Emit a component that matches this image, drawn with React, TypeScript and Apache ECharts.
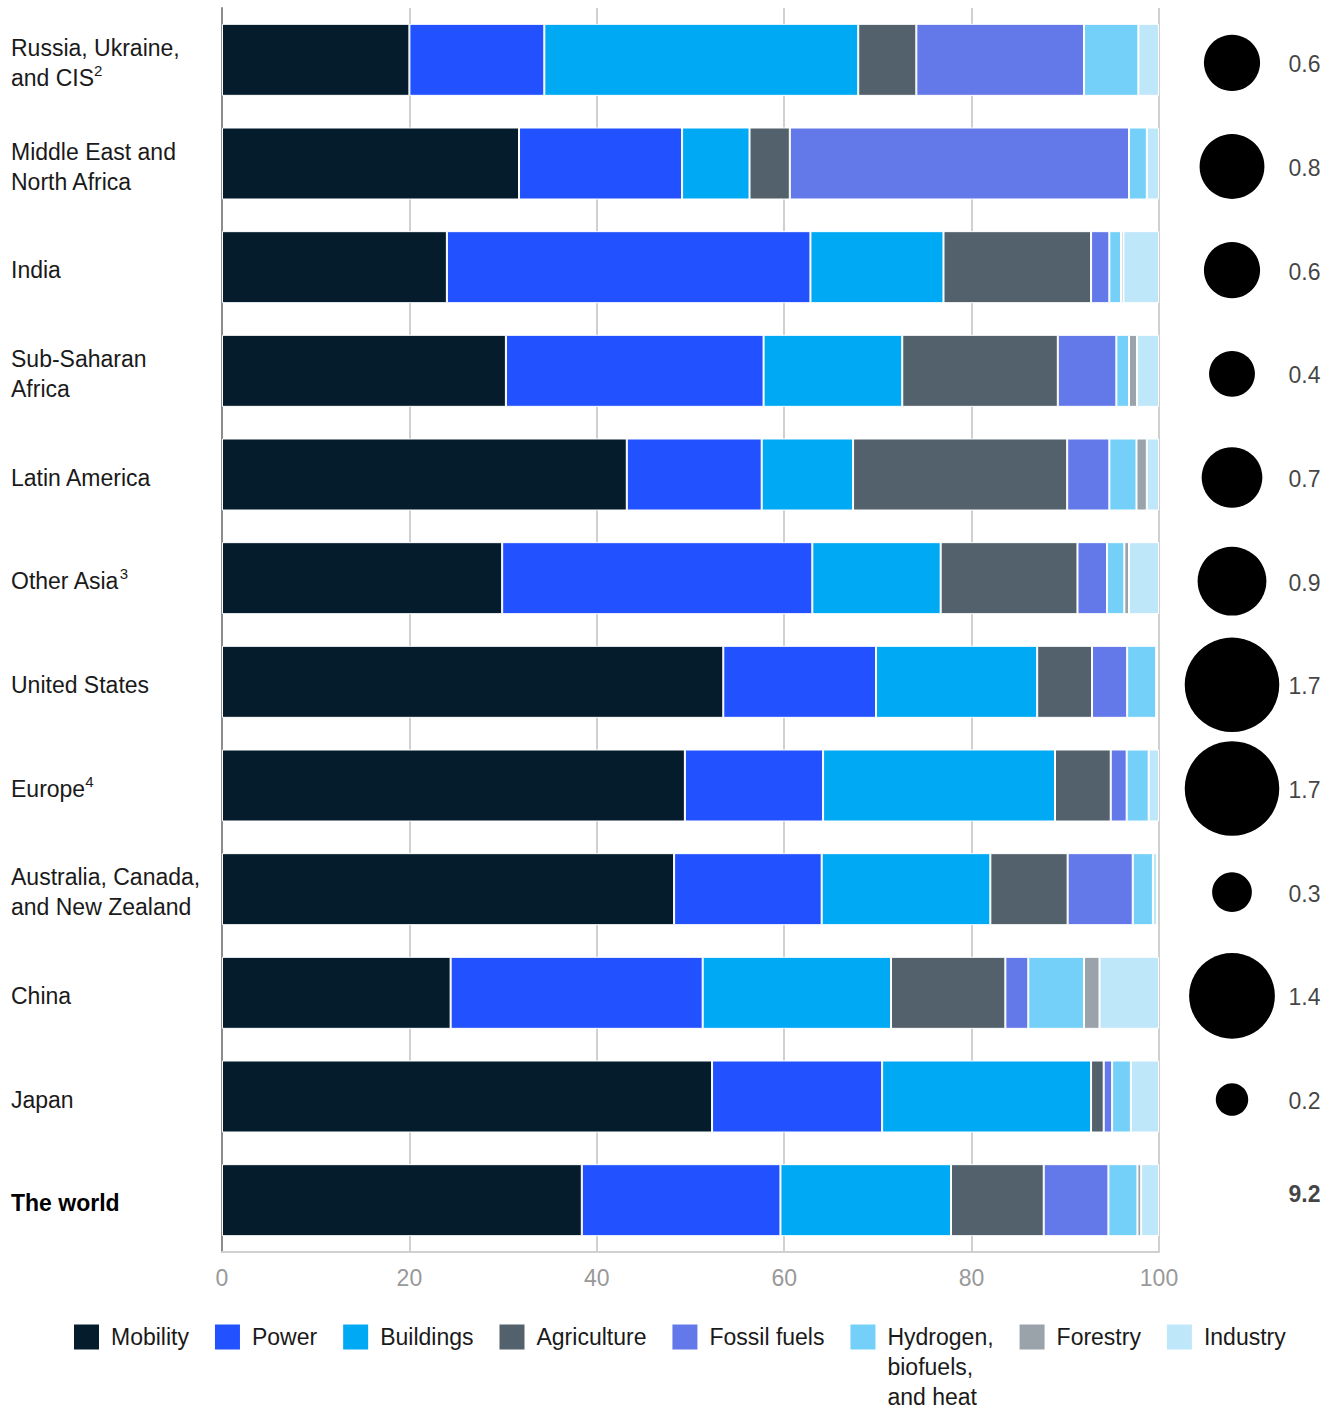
import React, { useEffect, useRef } from "react";
import * as echarts from "echarts";

const categories = [
  "Russia, Ukraine, and CIS",
  "Middle East and North Africa",
  "India",
  "Sub-Saharan Africa",
  "Latin America",
  "Other Asia",
  "United States",
  "Europe",
  "Australia, Canada, and New Zealand",
  "China",
  "Japan",
  "The world",
];

const categoryLabels = [
  "Russia, Ukraine,\nand CIS{sup|2}",
  "Middle East and\nNorth Africa",
  "India",
  "Sub-Saharan\nAfrica",
  "Latin America",
  "Other Asia{sup|3}",
  "United States",
  "Europe{sup|4}",
  "Australia, Canada,\nand New Zealand",
  "China",
  "Japan",
  "{bold|The world}",
];

const mobility = [20.0, 31.7, 24.0, 30.3, 43.2, 29.9, 53.5, 49.4, 48.25, 24.4, 52.3, 38.4];
const power = [14.4, 17.4, 38.8, 27.5, 14.4, 33.1, 16.3, 14.75, 15.75, 26.9, 18.15, 21.2];
const buildings = [33.5, 7.2, 14.2, 14.8, 9.75, 13.7, 17.2, 24.75, 18.0, 20.1, 22.3, 18.2];
const agriculture = [6.2, 4.3, 15.75, 16.6, 22.85, 14.6, 5.85, 5.95, 8.25, 12.2, 1.35, 9.9];
const fossilFuels = [17.9, 36.2, 1.95, 6.25, 4.5, 3.15, 3.75, 1.7, 6.95, 2.45, 0.9, 6.9];
const hydrogen = [5.8, 1.9, 1.25, 1.35, 2.9, 1.85, 3.1, 2.35, 2.15, 5.95, 2.0, 3.1];
const forestry = [0, 0, 0.25, 0.85, 1.1, 0.5, 0, 0, 0, 1.65, 0, 0.4];
const industry = [2.2, 1.3, 3.8, 2.35, 1.3, 3.2, 0, 1.1, 0.45, 6.35, 3.0, 1.9];

const emissions = [0.6, 0.8, 0.6, 0.4, 0.7, 0.9, 1.7, 1.7, 0.3, 1.4, 0.2, 9.2];

const xTicks = [0, 20, 40, 60, 80, 100];

const seriesNames = [
  "Mobility",
  "Power",
  "Buildings",
  "Agriculture",
  "Fossil fuels",
  "Hydrogen, biofuels, and heat",
  "Forestry",
  "Industry",
];
const seriesData = [mobility, power, buildings, agriculture, fossilFuels, hydrogen, forestry, industry];
const seriesColors = ["#051C2C", "#2251FF", "#00A9F4", "#52616B", "#6479E9", "#74D0F8", "#9AA2AA", "#BEE7FA"];

const FONT = "Liberation Sans";
const FS = 23;

export default function App() {
  const ref = useRef<HTMLDivElement>(null);

  useEffect(() => {
    document.body.style.margin = "0";
    if (!ref.current) return;
    const chart = echarts.init(ref.current, undefined, { renderer: "svg" });

    const barSeries = seriesNames.map((name, s) => ({
      name,
      type: "bar",
      stack: "total",
      barWidth: 72,
      xAxisIndex: 0,
      yAxisIndex: 0,
      data: seriesData[s].map((v) => (v === 0 ? null : v)),
      itemStyle: { color: seriesColors[s], borderColor: "#ffffff", borderWidth: 1 },
      emphasis: { disabled: true },
    }));

    const circleSeries = {
      name: "circles",
      type: "scatter",
      xAxisIndex: 1,
      yAxisIndex: 1,
      symbol: "circle",
      symbolOffset: [0, 3],
      data: categories.slice(0, 11).map((c, i) => [52, c, emissions[i]]),
      symbolSize: (val: any) => 72.5 * Math.sqrt(val[2]),
      itemStyle: { color: "#000000", opacity: 1 },
      silent: true,
    };

    const labelSeries = {
      name: "values",
      type: "scatter",
      xAxisIndex: 1,
      yAxisIndex: 1,
      symbolSize: 1,
      itemStyle: { color: "rgba(0,0,0,0)" },
      silent: true,
      data: categories.map((c, i) => ({
        value: [141, c, emissions[i]],
        label:
          i === categories.length - 1
            ? { fontWeight: "bold", offset: [0, -6] }
            : { offset: [0, 5] },
      })),
      label: {
        show: true,
        position: [0, 0],
        align: "right",
        verticalAlign: "middle",
        fontSize: FS,
        fontFamily: FONT,
        color: "#111111",
        formatter: (p: any) => emissions[p.dataIndex].toFixed(1),
      },
    };

    const option: any = {
      animation: false,
      textStyle: { fontFamily: FONT },
      grid: [
        { left: 222, right: 179, top: 8, bottom: 157 },
        { left: 1180, right: 0, top: 8, bottom: 157 },
      ],
      xAxis: [
        {
          type: "value",
          gridIndex: 0,
          min: xTicks[0],
          max: xTicks[xTicks.length - 1],
          interval: 20,
          axisLine: { show: true, lineStyle: { color: "#d0d0d0", width: 2 } },
          axisTick: { show: false },
          splitLine: { show: true, lineStyle: { color: "#d0d0d0", width: 2 } },
          axisLabel: { fontSize: FS, color: "#999999", margin: 14, fontFamily: FONT },
        },
        { type: "value", gridIndex: 1, min: 0, max: 158, show: false },
      ],
      yAxis: [
        {
          type: "category",
          gridIndex: 0,
          data: categories,
          inverse: true,
          axisLine: { show: true, lineStyle: { color: "#8c8c8c", width: 2 } },
          axisTick: { show: false },
          splitLine: { show: false },
          axisLabel: {
            align: "left",
            margin: 211,
            fontSize: FS,
            lineHeight: 30,
            color: "#1a1a1a",
            fontFamily: FONT,
            padding: [6, 0, 0, 0],
            formatter: (v: string) => categoryLabels[categories.indexOf(v)],
            rich: {
              sup: { fontSize: 15, verticalAlign: "top", lineHeight: 18, color: "#1a1a1a", fontFamily: FONT },
              bold: { fontSize: FS, fontWeight: "bold", color: "#000000", fontFamily: FONT },
            },
          },
        },
        { type: "category", gridIndex: 1, data: categories, inverse: true, show: false },
      ],
      legend: {
        data: seriesNames,
        left: 74,
        top: 1262,
        width: 1260,
        padding: 0,
        icon: "rect",
        itemWidth: 25,
        itemHeight: 25,
        itemGap: 26,
        selectedMode: false,
        itemStyle: { borderWidth: 0 },
        textStyle: {
          fontSize: FS,
          lineHeight: 30,
          color: "#1a1a1a",
          fontFamily: FONT,
          padding: [0, 0, 0, 7],
        },
        formatter: (name: string) =>
          name === "Hydrogen, biofuels, and heat" ? "\n\nHydrogen,\nbiofuels,\nand heat" : name,
      },
      series: [...barSeries, circleSeries, labelSeries],
    };

    chart.setOption(option);
    return () => chart.dispose();
  }, []);

  return <div ref={ref} style={{ width: 1338, height: 1409 }} />;
}
